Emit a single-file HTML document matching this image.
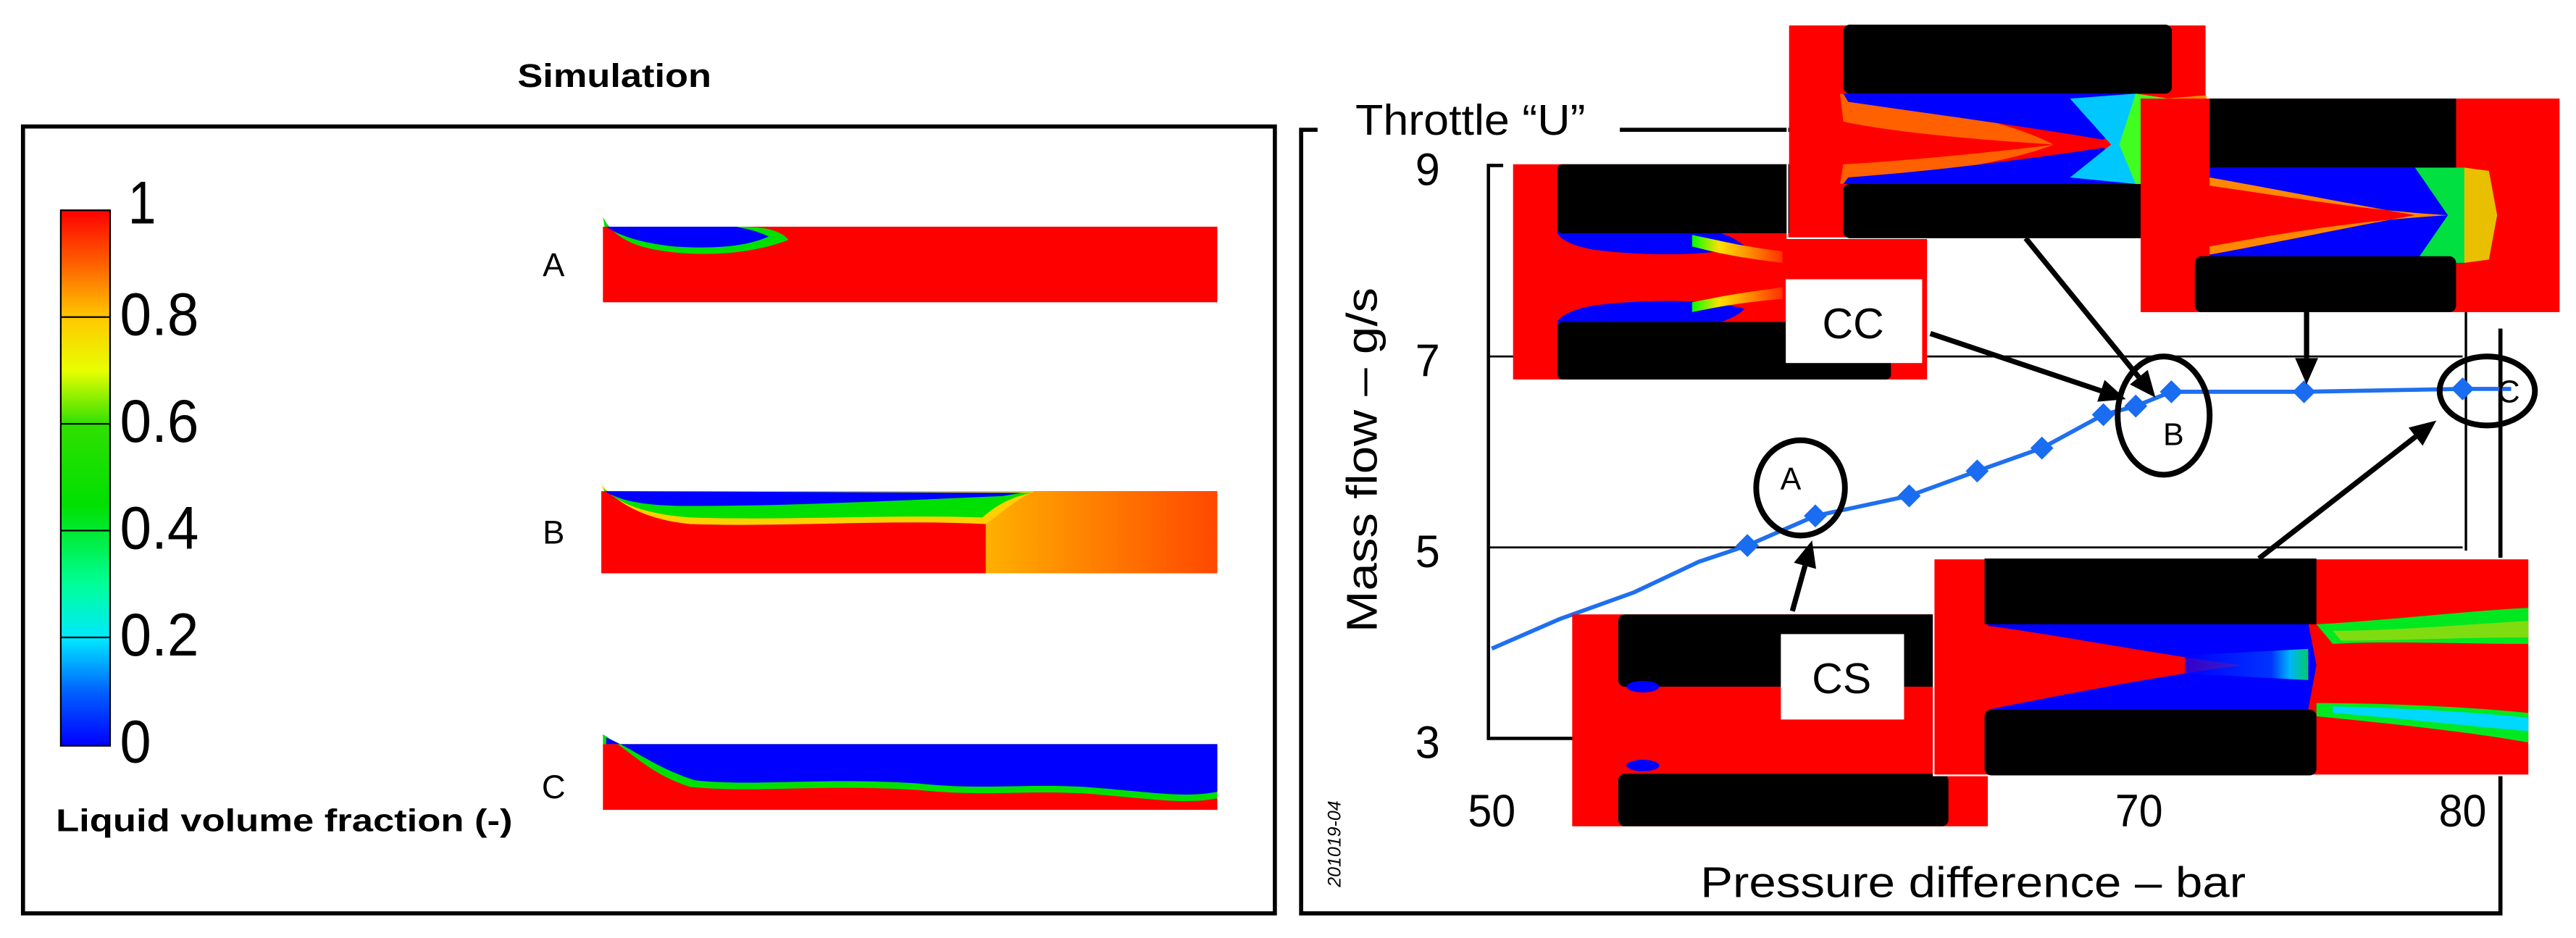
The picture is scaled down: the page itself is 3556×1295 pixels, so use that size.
<!DOCTYPE html>
<html><head><meta charset="utf-8">
<style>
html,body{margin:0;padding:0;background:#fff;}
svg{display:block;}
text{font-family:"Liberation Sans",sans-serif;}
</style></head>
<body>
<svg width="3556" height="1295" viewBox="0 0 1568 571" preserveAspectRatio="none" xmlns="http://www.w3.org/2000/svg">
<defs>
<linearGradient id="cbar" x1="0" y1="1" x2="0" y2="0">
<stop offset="0" stop-color="#0000ff"/><stop offset="0.1" stop-color="#0060ff"/><stop offset="0.2" stop-color="#00e8ff"/>
<stop offset="0.3" stop-color="#00ff9a"/><stop offset="0.45" stop-color="#00e000"/><stop offset="0.6" stop-color="#30e000"/>
<stop offset="0.7" stop-color="#e8ff00"/><stop offset="0.8" stop-color="#ffc800"/><stop offset="0.9" stop-color="#ff6000"/><stop offset="1" stop-color="#ff0000"/>
</linearGradient>
<linearGradient id="bRight" x1="0" y1="0" x2="1" y2="0">
<stop offset="0" stop-color="#ffb000"/><stop offset="1" stop-color="#ff4800"/>
</linearGradient>
<linearGradient id="jet" x1="0" y1="0" x2="1" y2="0">
<stop offset="0" stop-color="#0000ff"/><stop offset="0.7" stop-color="#0040ff"/><stop offset="0.85" stop-color="#00e0ff"/><stop offset="1" stop-color="#00ff40"/>
</linearGradient>
<linearGradient id="fade" x1="0" y1="0" x2="1" y2="0">
<stop offset="0" stop-color="#00ff00"/><stop offset="0.3" stop-color="#ffe000"/><stop offset="1" stop-color="#ff3000"/>
</linearGradient>
</defs>

<!-- LEFT PANEL -->
<text x="315" y="53" font-size="20" font-weight="bold" textLength="118" lengthAdjust="spacingAndGlyphs">Simulation</text>
<rect x="14" y="77" width="762" height="479" fill="none" stroke="#000" stroke-width="2.5"/>
<g>
<rect x="37" y="128" width="30" height="326" fill="url(#cbar)" stroke="#000" stroke-width="1"/>
<g stroke="#000" stroke-width="1"><line x1="37" y1="193" x2="67" y2="193"/><line x1="37" y1="258" x2="67" y2="258"/><line x1="37" y1="323" x2="67" y2="323"/><line x1="37" y1="388" x2="67" y2="388"/></g>
<g font-size="37" fill="#000">
<text x="78" y="136" textLength="17" lengthAdjust="spacingAndGlyphs">1</text>
<text x="73" y="204" textLength="48" lengthAdjust="spacingAndGlyphs">0.8</text>
<text x="73" y="269" textLength="48" lengthAdjust="spacingAndGlyphs">0.6</text>
<text x="73" y="334" textLength="48" lengthAdjust="spacingAndGlyphs">0.4</text>
<text x="73" y="399" textLength="48" lengthAdjust="spacingAndGlyphs">0.2</text>
<text x="73" y="464" textLength="19" lengthAdjust="spacingAndGlyphs">0</text>
</g>
<text x="34" y="506" font-size="19" font-weight="bold" textLength="278" lengthAdjust="spacingAndGlyphs">Liquid volume fraction (-)</text>
</g>

<g>
<text x="337" y="168" font-size="20" text-anchor="middle">A</text>
<rect x="367" y="138" width="374" height="46" fill="#ff0000"/>
<path d="M367,132 C372,142 382,150 405,153 C435,157 462,153 480,146 C474,139 462,138 450,138 L368,138 Z" fill="#00e000"/>
<path d="M369,138 C376,143 390,148 410,150 C440,152 456,149 468,144 C460,140 452,139 448,138 Z" fill="#0000ff"/>
</g>
<g>
<text x="337" y="331" font-size="20" text-anchor="middle">B</text>
<rect x="366" y="299" width="375" height="50" fill="#ff0000"/>
<rect x="600" y="299" width="141" height="50" fill="url(#bRight)"/>
<path d="M366,295 C375,305 390,316 420,319 C480,321 540,316 600,319 C610,312 618,304 630,299 L368,299 Z" fill="#ffd000"/>
<path d="M367,297 C375,305 390,313 420,315 C480,317 540,313 598,315 C606,308 614,303 628,300 L368,299 Z" fill="#00e000"/>
<path d="M368,299 C378,305 392,308 420,308 C480,308 540,305 610,302 L622,300 Z" fill="#0000ff"/>
</g>
<g>
<text x="337" y="486" font-size="20" text-anchor="middle">C</text>
<rect x="367" y="453" width="374" height="40" fill="#ff0000"/>
<path d="M367,447 L367,453 L741,453 L741,486 C720,490 700,486 660,483 C620,481 600,485 560,481 C500,477 460,483 420,479 C395,471 385,458 367,447 Z" fill="#00e000"/>
<path d="M369,449 L369,453 L741,453 L741,482 C720,486 700,482 660,479 C620,477 600,481 560,477 C500,473 460,479 423,475 C398,467 386,456 369,449 Z" fill="#0000ff"/>
</g>

<!-- RIGHT PANEL -->
<g stroke="#000" stroke-width="2.5" fill="none">
<polyline points="802,79 792,79 792,556 1522,556 1522,200"/>
<line x1="986" y1="79" x2="1095" y2="79"/>
</g>
<text x="825" y="82" font-size="26" textLength="140" lengthAdjust="spacingAndGlyphs">Throttle “U”</text>

<g id="chart"></g>

<!-- insets -->
<g>
<rect x="921" y="100" width="252" height="131" fill="#ff0000"/>
<path d="M948,140 L1040,140 C1050,142 1058,146 1062,150 C1040,156 1000,156 970,152 C958,150 950,146 948,142 Z" fill="#0000ff"/>
<path d="M1030,143 C1045,146 1060,150 1085,153 L1085,160 C1060,157 1045,154 1030,150 Z" fill="url(#fade)"/>
<path d="M948,198 L1040,198 C1050,196 1058,192 1062,188 C1040,182 1000,182 970,186 C958,188 950,192 948,196 Z" fill="#0000ff"/>
<path d="M1030,190 C1045,187 1060,184 1085,182 L1085,175 C1060,178 1045,181 1030,184 Z" fill="url(#fade)"/>
<rect x="948" y="100" width="150" height="42" fill="#000" rx="3"/>
<rect x="948" y="196" width="203" height="35" fill="#000" rx="3"/>
</g>
<g>
<rect x="1089" y="15" width="254" height="130" fill="#ff0000"/>
<rect x="1088" y="15" width="255" height="130" fill="none" stroke="#fff" stroke-width="1"/>
<path d="M1120,57 C1160,62 1220,72 1250,88 C1220,86 1160,82 1122,74 Z M1120,112 C1160,108 1220,100 1250,88 C1220,92 1160,98 1122,100 Z" fill="#ff6000"/>
<path d="M1122,57 L1300,57 L1305,70 L1280,85 C1240,78 1180,70 1125,62 Z" fill="#0000ff"/>
<path d="M1122,112 L1300,112 L1305,100 L1280,90 C1240,96 1180,104 1125,108 Z" fill="#0000ff"/>
<path d="M1260,60 L1300,57 L1310,88 L1300,112 L1260,108 L1285,88 Z" fill="#00c8ff"/>
<path d="M1300,57 L1320,60 L1325,88 L1320,112 L1300,112 L1290,88 Z" fill="#40ff20"/>
<path d="M1318,60 L1343,58 L1343,118 L1318,115 L1330,88 Z" fill="#ff8a00"/>
<rect x="1122" y="15" width="200" height="42" fill="#000" rx="4"/>
<rect x="1122" y="112" width="200" height="33" fill="#000" rx="4"/>
</g>
<g>
<rect x="1303" y="60" width="255" height="130" fill="#ff0000"/>
<path d="M1345,102 L1500,102 L1500,160 L1345,160 L1345,155 C1400,145 1430,138 1470,131 C1430,124 1400,118 1345,108 Z" fill="#0000ff"/>
<path d="M1345,108 C1400,118 1430,124 1470,131 C1430,138 1400,145 1345,155 L1345,150 C1400,140 1440,134 1490,131 C1440,128 1400,121 1345,113 Z" fill="#ff8800"/>
<path d="M1470,102 L1500,102 L1505,131 L1500,160 L1470,160 L1490,131 Z" fill="#00e040"/>
<path d="M1500,102 L1515,104 L1520,131 L1515,158 L1500,160 Z" fill="#e8c000"/>
<rect x="1345" y="60" width="150" height="42" fill="#000"/>
<rect x="1336" y="156" width="159" height="34" fill="#000" rx="4"/>
</g>
<g>
<rect x="957" y="374" width="253" height="129" fill="#ff0000"/>
<rect x="985" y="374" width="200" height="44" fill="#000" rx="4"/>
<ellipse cx="1000" cy="418" rx="10" ry="3.5" fill="#0000ff"/>
<ellipse cx="1000" cy="466" rx="10" ry="3.5" fill="#0000ff"/>
<rect x="985" y="471" width="201" height="32" fill="#000" rx="4"/>
</g>
<g>
<rect x="1177" y="340" width="362" height="132" fill="#ff0000"/>
<rect x="1177" y="340" width="363" height="132" fill="none" stroke="#fff" stroke-width="1"/>
<path d="M1210,379 L1405,379 L1410,405 L1405,432 L1210,432 C1250,424 1310,412 1365,405 C1310,398 1250,386 1210,381 Z" fill="#0000ff"/>
<path d="M1330,399 L1405,395 L1405,414 L1330,410 Z" fill="url(#jet)" opacity="0.8"/>
<path d="M1410,380 C1450,378 1500,372 1539,370 L1539,392 C1500,392 1450,390 1420,392 Z" fill="#00e820"/>
<path d="M1420,384 C1460,384 1500,380 1539,378 L1539,388 C1500,388 1460,390 1425,390 Z" fill="#ffd000" opacity="0.5"/>
<path d="M1410,428 C1450,428 1500,430 1539,434 L1539,452 C1500,445 1450,440 1410,436 Z" fill="#00e820"/>
<path d="M1420,430 C1460,431 1500,433 1539,437 L1539,445 C1500,442 1460,437 1420,434 Z" fill="#00d8ff"/>
<rect x="1208" y="340" width="202" height="40" fill="#000"/>
<rect x="1208" y="432" width="202" height="40" fill="#000" rx="4"/>
</g>

<g>
<rect x="1087" y="170" width="83" height="51" fill="#fff"/>
<text x="1128" y="206" font-size="26" text-anchor="middle">CC</text>
</g>
<g>
<rect x="1084" y="386" width="75" height="52" fill="#fff"/>
<text x="1121" y="422" font-size="26" text-anchor="middle">CS</text>
</g>

<g fill="none" stroke="#000" stroke-width="3.5">
<ellipse cx="1096" cy="297" rx="27" ry="29"/>
<ellipse cx="1317" cy="253" rx="28" ry="36"/>
<ellipse cx="1514" cy="238" rx="29" ry="21"/>
</g>
<g font-size="19" fill="#000">
<text x="1090" y="298" text-anchor="middle">A</text>
<text x="1323" y="271" text-anchor="middle">B</text>
<text x="1527" y="245" text-anchor="middle">C</text>
</g>

<g id="arrows"></g>

<text transform="translate(838,280) rotate(-90)" font-size="26" text-anchor="middle" textLength="210" lengthAdjust="spacingAndGlyphs">Mass flow  –  g/s</text>
<text x="1201" y="546" font-size="26" text-anchor="middle" textLength="332" lengthAdjust="spacingAndGlyphs">Pressure difference  –  bar</text>
<text transform="translate(816,540) rotate(-90)" font-size="11" font-style="italic">201019-04</text>

<script>
const yTicks = [3, 5, 7, 9];
const xTicks = [50, 70, 80];
const pressure = [57.9, 60.0, 62.9, 65.0, 67.0, 68.9, 69.9, 71.0, 75.1, 80.0];
const massFlow = [5.02, 5.33, 5.54, 5.80, 6.04, 6.39, 6.48, 6.63, 6.63, 6.66];
const curvePressure = [50, 52.1, 54.4, 56.4, 57.9, 60.0, 62.9, 65.0, 67.0, 68.9, 69.9, 71.0, 75.1, 80.0, 81.5];
const curveMass = [3.94, 4.25, 4.53, 4.85, 5.02, 5.33, 5.54, 5.80, 6.04, 6.39, 6.48, 6.63, 6.63, 6.66, 6.66];

const NS = "http://www.w3.org/2000/svg";
const xS = p => 908 + (p - 50) * 19.7;
const yS = m => 449.5 - (m - 3) * 58.13;
const chart = document.getElementById('chart');
function mk(tag, attrs, parent){const e=document.createElementNS(NS,tag);for(const k in attrs)e.setAttribute(k,attrs[k]);(parent||chart).appendChild(e);return e;}

let ax = mk('polyline',{points:`915,${yS(9)} 906,${yS(9)} 906,${yS(3)} 960,${yS(3)}`,fill:'none',stroke:'#000','stroke-width':2});


[7,5].forEach(v=>{
  const g = mk('line',{x1:906,y1:yS(v),x2:xS(80),y2:yS(v),stroke:'#000','stroke-width':1.2});
  
  
});
let rv = mk('line',{x1:xS(80)+2,y1:190,x2:xS(80)+2,y2:yS(5)+2,stroke:'#000','stroke-width':1.5});


yTicks.forEach(v=>{
  const t = mk('text',{x:869,y:yS(v)+12,'font-size':28,'text-anchor':'middle',textLength:15,lengthAdjust:'spacingAndGlyphs'});
  t.textContent = v;
  
  
});
xTicks.forEach(v=>{
  const t = mk('text',{x:xS(v),y:503,'font-size':28,'text-anchor':'middle',textLength:29,lengthAdjust:'spacingAndGlyphs'});
  t.textContent = v;
  
  
});
const line = mk('polyline',{points:curvePressure.map((p,i)=>xS(p)+','+yS(curveMass[i])).join(' '),fill:'none',stroke:'#1f6fef','stroke-width':2.5});


pressure.forEach((p,i)=>{
  const x=xS(p), y=yS(massFlow[i]), s=7;
  const d = mk('polygon',{points:`${x},${y-s} ${x+s},${y} ${x},${y+s} ${x-s},${y}`,fill:'#1a6cf0'});
  
  
});

const arrows = document.getElementById('arrows');
function arrow(x1,y1,x2,y2){
  const a=Math.atan2(y2-y1,x2-x1), L=16, W=7;
  const bx=x2-L*Math.cos(a), by=y2-L*Math.sin(a);
  const l=mk('line',{x1,y1,x2:bx,y2:by,stroke:'#000','stroke-width':3.2},arrows);
  
  
  const h=mk('polygon',{points:`${x2},${y2} ${bx+W*Math.sin(a)},${by-W*Math.cos(a)} ${bx-W*Math.sin(a)},${by+W*Math.cos(a)}`,fill:'#000'},arrows);
  
  
}
arrow(1175,203,1294,243);
arrow(1233,145,1312,242);
arrow(1404,190,1404,234);
arrow(1091,372,1103,329);
arrow(1375,340,1483,256);
</script>
</svg>
</body></html>
